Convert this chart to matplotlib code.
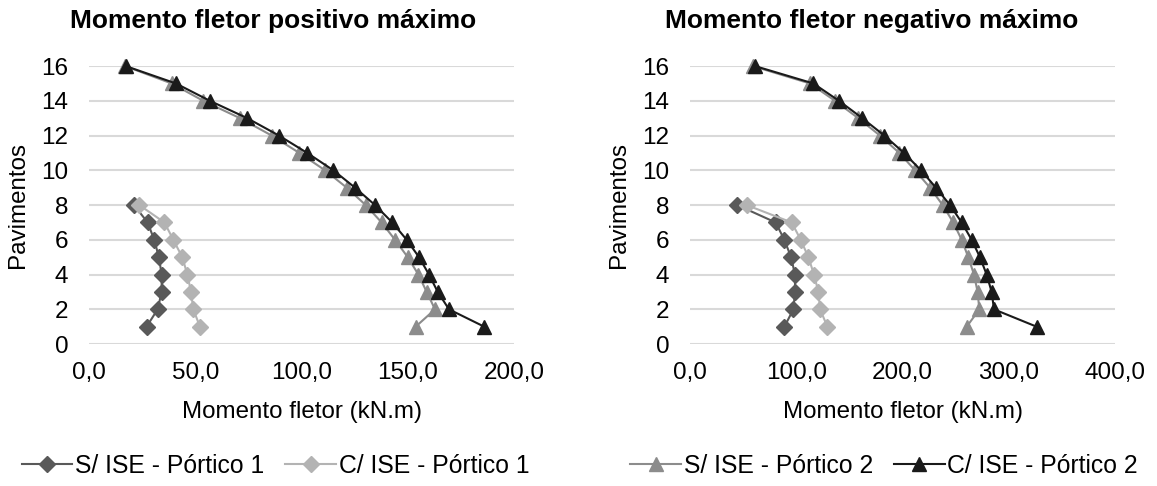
import matplotlib
matplotlib.use("Agg")
import matplotlib.pyplot as plt

plt.rcParams['font.family'] = ['Liberation Sans', 'DejaVu Sans']

floors_p1 = [1, 2, 3, 4, 5, 6, 7, 8]
floors_p2 = list(range(1, 17))

# Momento fletor positivo máximo
pos_s_p1 = [27.1, 32.3, 34.2, 34.2, 32.9, 30.7, 27.6, 21.2]
pos_c_p1 = [52.2, 49.1, 48.0, 46.3, 43.9, 39.7, 35.5, 23.7]
pos_s_p2 = [153.7, 162.8, 158.9, 155.0, 150.0, 144.0, 137.7, 130.2,
            121.3, 111.1, 99.0, 86.0, 71.1, 53.8, 38.9, 17.0]
pos_c_p2 = [186.0, 169.4, 164.1, 160.0, 155.3, 149.5, 142.7, 134.6,
            125.2, 115.0, 102.7, 89.4, 74.5, 56.9, 40.9, 17.3]

# Momento fletor negativo máximo
neg_s_p1 = [88.8, 97.3, 98.8, 98.8, 95.1, 88.8, 80.6, 44.5]
neg_c_p1 = [129.3, 122.4, 120.8, 116.7, 111.4, 104.2, 95.7, 53.3]
neg_s_p2 = [260.4, 272.3, 270.7, 267.3, 261.9, 255.7, 247.8, 237.8,
            225.9, 211.8, 197.0, 178.8, 158.4, 136.5, 112.9, 59.0]
neg_c_p2 = [326.3, 286.1, 283.9, 279.2, 272.9, 265.1, 255.7, 244.7,
            231.5, 217.4, 201.4, 182.9, 162.2, 140.2, 116.1, 61.2]

titles = ["Momento fletor positivo máximo", "Momento fletor negativo máximo"]
xlabel = "Momento fletor (kN.m)"
ylabel = "Pavimentos"
labels = ["S/ ISE - Pórtico 1", "C/ ISE - Pórtico 1",
          "S/ ISE - Pórtico 2", "C/ ISE - Pórtico 2"]
xmax = [200, 400]
xstep = [50, 100]

col_s1 = '#595959'
col_c1 = '#b3b3b3'
col_s2 = '#8c8c8c'
col_c2 = '#1a1a1a'

fig = plt.figure(figsize=(11.57, 4.86), dpi=100)
axes = [fig.add_axes([0.0769, 0.292, 0.3674, 0.572]),
        fig.add_axes([0.5964, 0.292, 0.3673, 0.572])]
title_x = [0.236, 0.7537]

data = [(pos_s_p1, pos_c_p1, pos_s_p2, pos_c_p2),
        (neg_s_p1, neg_c_p1, neg_s_p2, neg_c_p2)]

def fmt(v):
    return f"{v:.1f}".replace('.', ',')

handles_all = []
for i, ax in enumerate(axes):
    s1, c1, s2, c2 = data[i]
    h1, = ax.plot(s1, floors_p1, color=col_s1, lw=1.5, marker='D', ms=8,
                  mfc=col_s1, mec=col_s1, clip_on=False, zorder=3, label=labels[0])
    h2, = ax.plot(c1, floors_p1, color=col_c1, lw=1.5, marker='D', ms=8,
                  mfc=col_c1, mec=col_c1, clip_on=False, zorder=3, label=labels[1])
    h3, = ax.plot(s2, floors_p2, color=col_s2, lw=1.5, marker='^', ms=10.5,
                  mfc=col_s2, mec=col_s2, clip_on=False, zorder=3, label=labels[2])
    h4, = ax.plot(c2, floors_p2, color=col_c2, lw=1.5, marker='^', ms=10.5,
                  mfc=col_c2, mec=col_c2, clip_on=False, zorder=4, label=labels[3])
    handles_all = [h1, h2, h3, h4]
    ax.set_xlim(0, xmax[i])
    ax.set_ylim(0, 16)
    xt = list(range(0, xmax[i] + 1, xstep[i]))
    ax.set_xticks(xt)
    ax.set_xticklabels([fmt(v) for v in xt])
    ax.set_yticks(range(0, 17, 2))
    ax.grid(axis='y', color='#d9d9d9', lw=1.5, zorder=0)
    ax.set_axisbelow(True)
    for sp in ax.spines.values():
        sp.set_visible(False)
    ax.tick_params(length=0, labelsize=17.5, colors='#000000')
    ax.tick_params(axis='y', pad=15)
    ax.tick_params(axis='x', pad=13)
    ax.set_xlabel(xlabel, fontsize=17.4, labelpad=12)
    ax.set_ylabel(ylabel, fontsize=17.4, labelpad=9)
    fig.text(title_x[i], 0.957, titles[i], fontsize=19, fontweight='bold',
             ha='center', va='center')

leg_kw = dict(frameon=False, fontsize=17.8, ncol=2, handlelength=2.06,
              handletextpad=0.1, columnspacing=0.85, loc='center')
fig.legend(handles_all[:2], labels[:2], bbox_to_anchor=(0.238, 0.041), **leg_kw)
fig.legend(handles_all[2:], labels[2:], bbox_to_anchor=(0.764, 0.041), **leg_kw)

fig.savefig("out.png", dpi=100, facecolor='white')
